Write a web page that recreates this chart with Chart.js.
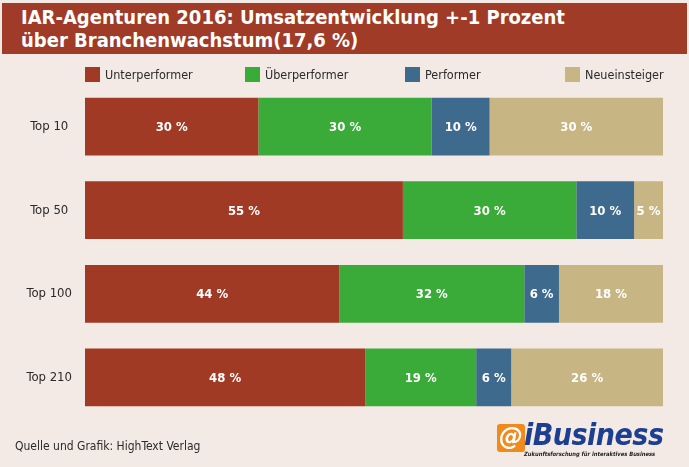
<!DOCTYPE html>
<html>
<head>
<meta charset="utf-8">
<script src="https://cdn.jsdelivr.net/npm/chart.js@4"></script>
<style>
  body { margin: 0; background: #f4eae5; font-family: "DejaVu Sans Condensed", "Liberation Sans Narrow", "Open Sans", sans-serif; }
  #page { position: relative; width: 689px; height: 467px; overflow: hidden; }
  #title { position: absolute; left: 2px; top: 3px; width: 685px; height: 51px; background: #9f3b26; color: #fff;
           font-weight: bold; font-size: 20px; line-height: 23px; padding: 3px 0 0 19px; box-sizing: border-box; }
  #legend { position: absolute; top: 67px; left: 0; width: 689px; height: 16px; z-index: 2; }
  .lg { position: absolute; top: 0; font-size: 12.5px; color: #2a2a2a; line-height: 15px; white-space: nowrap; }
  .lg span { display: inline-block; width: 15px; height: 15px; vertical-align: top; margin-right: 5px; }
  #wrap { position: absolute; left: 0; top: 64px; width: 689px; height: 376px; }
  #foot { position: absolute; left: 15px; top: 439px; font-size: 12px; color: #2a2a2a; }
  #logo { position: absolute; left: 497px; top: 420px; width: 180px; height: 40px; }
  #logo .at { position: absolute; left: 0; top: 4px; width: 28px; height: 28px; background: #f08a1c; color: #fff; border-radius: 3px;
              font: bold italic 24px "DejaVu Sans", sans-serif; line-height: 27px; text-align: center; }
  #logo .nm { position: absolute; left: 27px; top: -3px; font: bold italic 30px "DejaVu Sans Condensed", "DejaVu Sans", sans-serif; color: #1d3f91; letter-spacing: -0.5px; }
  #logo .tg { position: absolute; left: 27px; top: 31px; font: bold italic 5.8px "DejaVu Sans Condensed", "DejaVu Sans", sans-serif; color: #222; white-space: nowrap; }
</style>
</head>
<body>
<div id="page">
  <div id="title">IAR-Agenturen 2016: Umsatzentwicklung +-1 Prozent<br>über Branchenwachstum(17,6 %)</div>
  <div id="wrap"><canvas id="grafik"></canvas></div>
  <div id="legend"></div>
  <div id="foot">Quelle und Grafik: HighText Verlag</div>
  <div id="logo"><div class="at">@</div><div class="nm">iBusiness</div><div class="tg">Zukunftsforschung für interaktives Business</div></div>
</div>
<script>
// Daten
var categories = ['Top 10', 'Top 50', 'Top 100', 'Top 210'];
var unterperformer = [30, 55, 44, 48];
var ueberperformer = [30, 30, 32, 19];
var performer = [10, 10, 6, 6];
var neueinsteiger = [30, 5, 18, 26];

var seriesNames = ['Unterperformer', 'Überperformer', 'Performer', 'Neueinsteiger'];
var seriesValues = [unterperformer, ueberperformer, performer, neueinsteiger];
var colors = ['#a03a24', '#3aaa38', '#3e6a8d', '#c8b584'];

// jede Zeile auf 100 % gestreckt, wie im Original
var totals = categories.map(function (c, i) {
    return seriesValues.reduce(function (s, arr) { return s + arr[i]; }, 0);
});

// Legende
var legend = document.getElementById('legend');
seriesNames.forEach(function (n, i) {
    var d = document.createElement('div');
    d.className = 'lg';
    d.style.left = (85 + i * 160) + 'px';
    d.innerHTML = '<span style="background:' + colors[i] + '"></span>' + n;
    legend.appendChild(d);
});

var labelPlugin = {
    id: 'segmentLabels',
    afterDatasetsDraw: function (chart) {
        var c = chart.ctx;
        c.save();
        c.fillStyle = '#ffffff';
        c.font = 'bold 13px "DejaVu Sans Condensed", "Open Sans", sans-serif';
        c.textAlign = 'center';
        c.textBaseline = 'middle';
        chart.data.datasets.forEach(function (ds, di) {
            chart.getDatasetMeta(di).data.forEach(function (bar, i) {
                c.fillText(ds.raw[i] + ' %', (bar.x + bar.base) / 2, bar.y + 1);
            });
        });
        c.restore();
    }
};

var ctx = document.getElementById('grafik');
var chart = new Chart(ctx, {
    type: 'bar',
    data: {
        labels: categories,
        datasets: seriesNames.map(function (n, k) {
            return {
                label: n,
                raw: seriesValues[k],
                data: seriesValues[k].map(function (v, i) { return v / totals[i] * 100; }),
                backgroundColor: colors[k],
                borderWidth: 0,
                categoryPercentage: 1,
                barPercentage: 0.69
            };
        })
    },
    options: {
        indexAxis: 'y',
        responsive: true,
        maintainAspectRatio: false,
        animation: false,
        layout: { padding: { left: 0, right: 26, top: 0, bottom: 0 } },
        plugins: { legend: { display: false }, tooltip: { enabled: false } },
        scales: {
            x: { stacked: true, min: 0, max: 100, display: false },
            y: {
                stacked: true,
                border: { display: false },
                grid: { display: false, drawTicks: false },
                ticks: {
                    crossAlign: 'center',
                    padding: 13,
                    color: '#2a2a2a',
                    font: { family: '"DejaVu Sans Condensed", "Open Sans", sans-serif', size: 13 }
                },
                afterFit: function (scale) { scale.width = 85; }
            }
        }
    },
    plugins: [labelPlugin]
});
</script>
</body>
</html>
